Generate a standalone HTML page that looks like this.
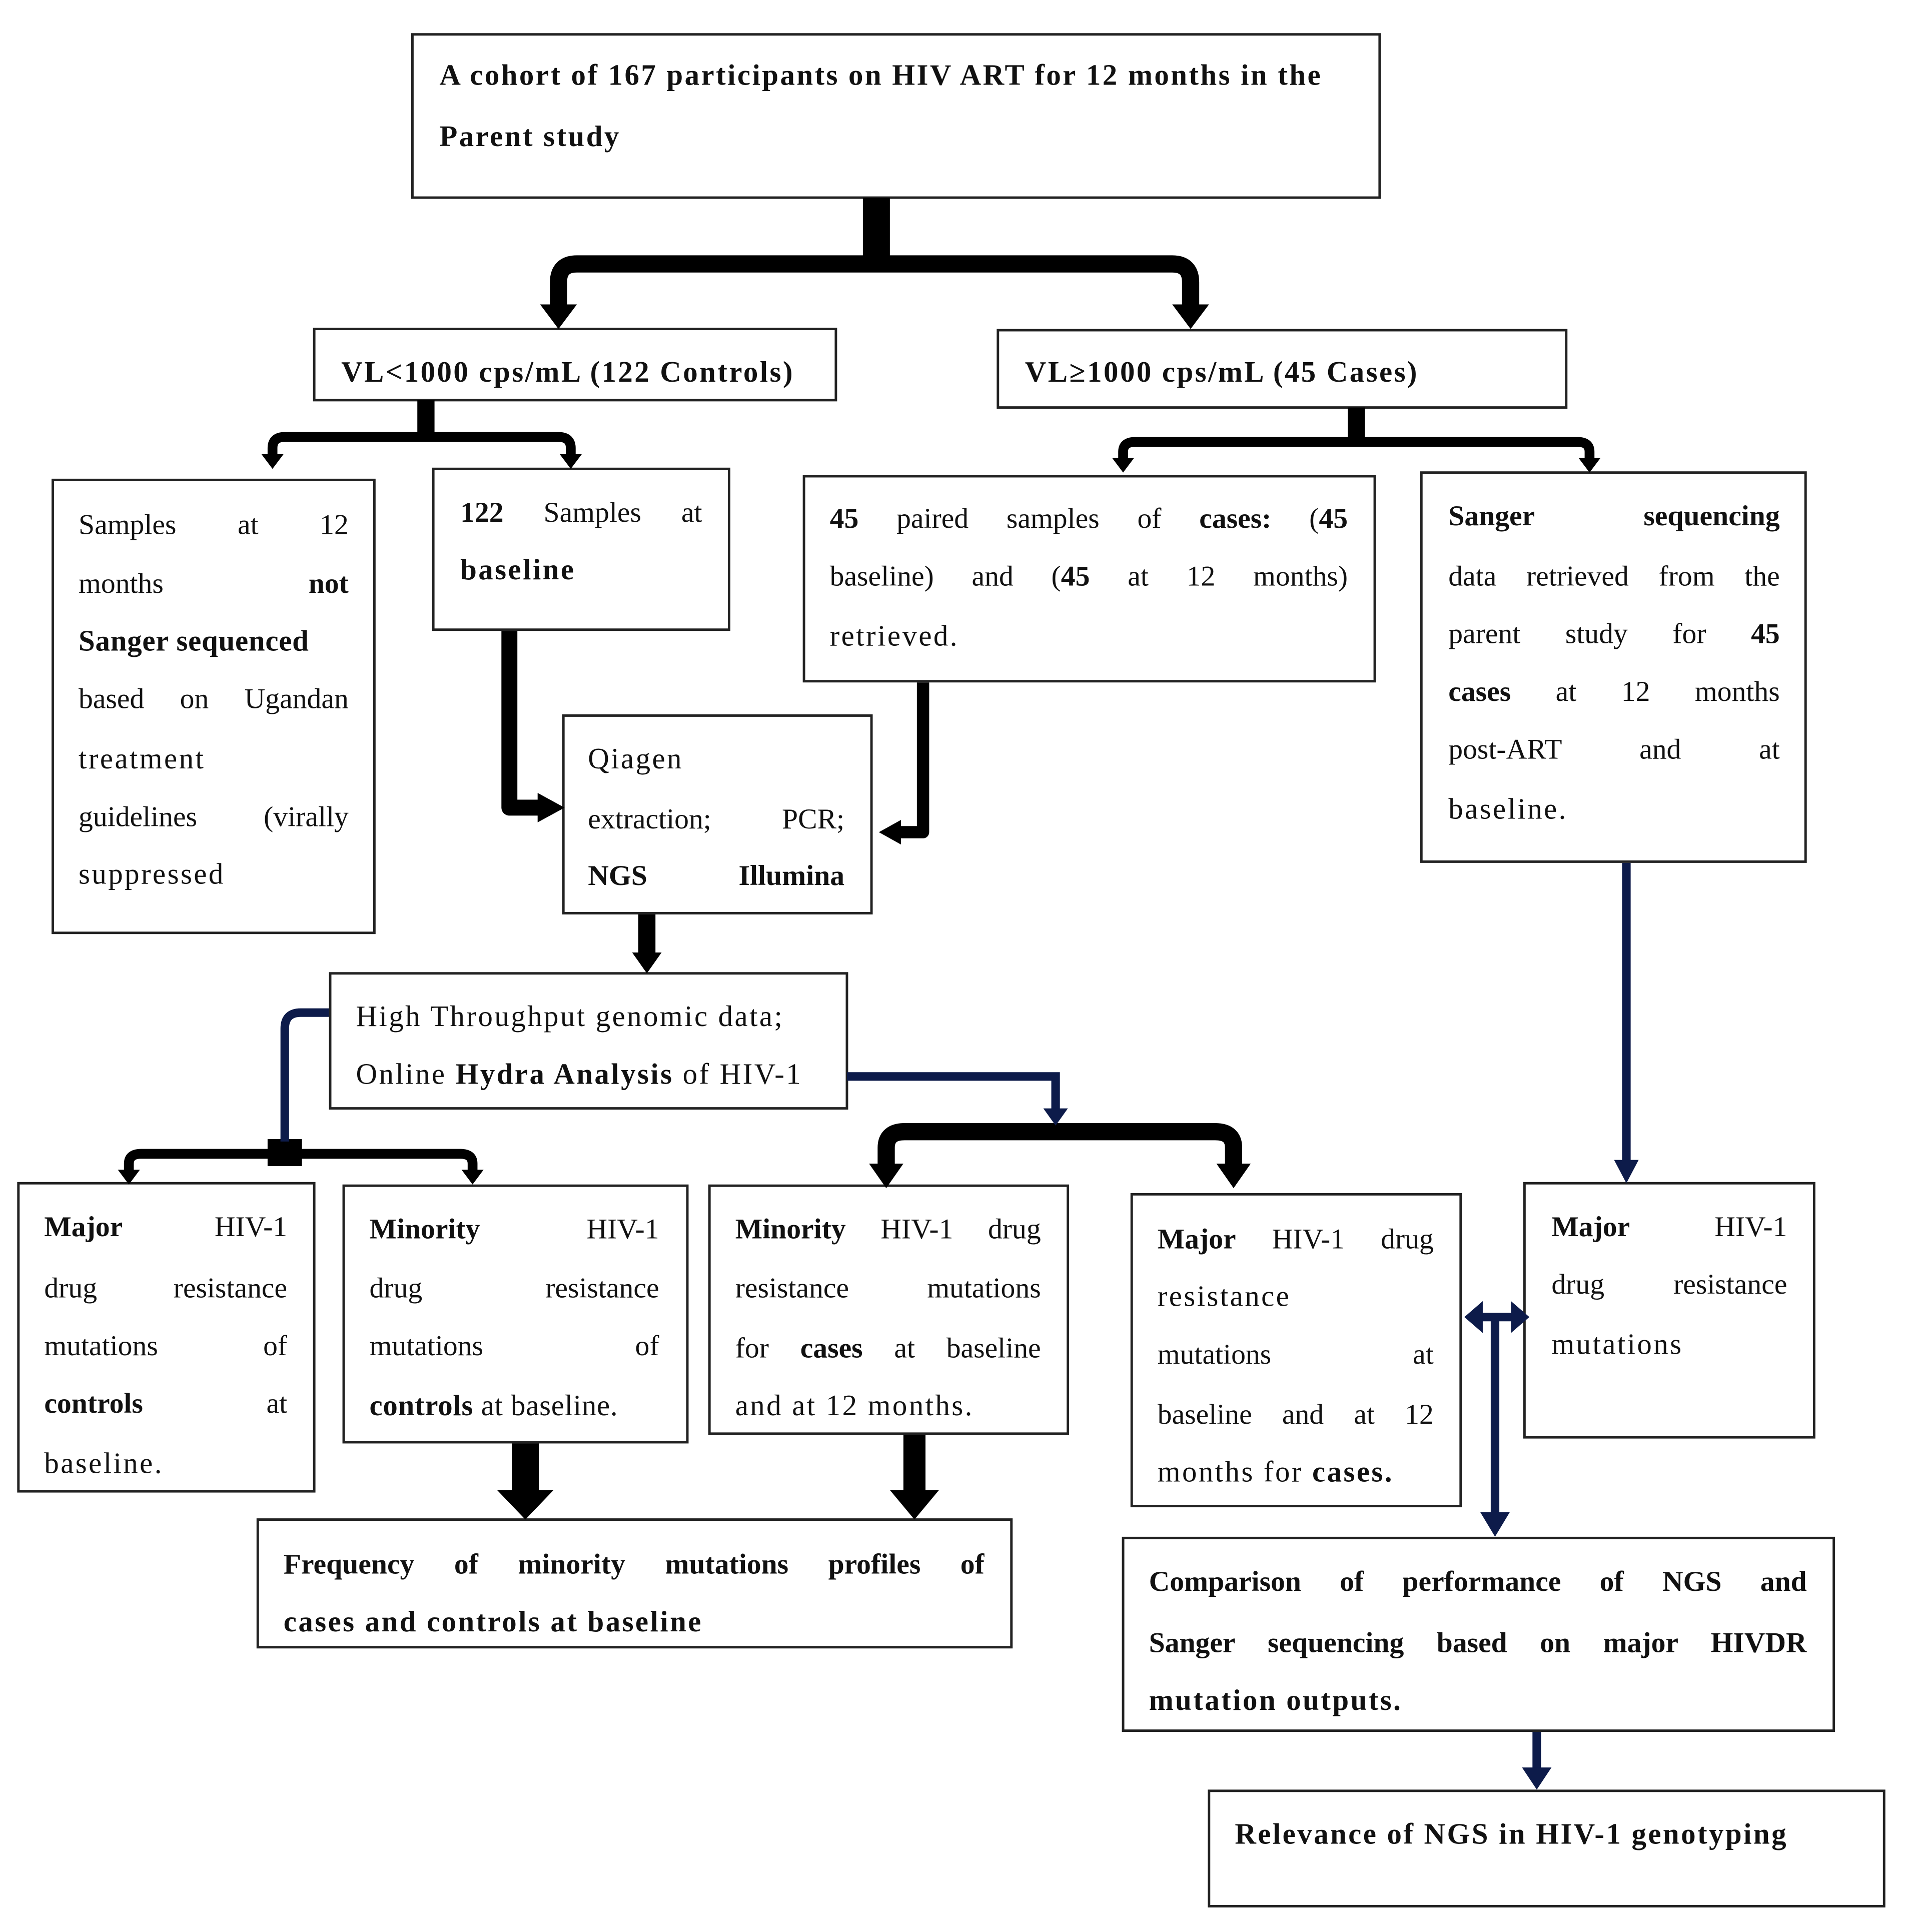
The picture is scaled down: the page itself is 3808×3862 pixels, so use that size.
<!DOCTYPE html>
<html><head><meta charset="utf-8"><style>
html,body{margin:0;padding:0;background:#fff;}
#wrap{width:3808px;height:3862px;overflow:hidden;position:relative;}
#c{position:absolute;left:0;top:0;width:1552px;height:1574px;transform:scale(2.4536);transform-origin:0 0;font-family:"Liberation Serif",serif;color:#111;}
.b{position:absolute;border:2px solid #222;box-sizing:border-box;background:#fff;}
.l{position:absolute;white-space:nowrap;height:32px;line-height:32px;font-size:24px;letter-spacing:1.4px;}
.j{text-align:justify;text-align-last:justify;white-space:normal;overflow:hidden;letter-spacing:0;font-size:23.5px;}
.bb{font-weight:bold;}
svg{position:absolute;left:0;top:0;}
</style></head><body><div id="wrap"><div id="c">
<div class="b" style="left:335px;top:27px;width:790px;height:135px"></div>
<div class="b" style="left:255px;top:267px;width:427px;height:60px"></div>
<div class="b" style="left:812px;top:268px;width:465px;height:65px"></div>
<div class="b" style="left:42px;top:390px;width:264px;height:371px"></div>
<div class="b" style="left:352px;top:381px;width:243px;height:133px"></div>
<div class="b" style="left:654px;top:387px;width:467px;height:169px"></div>
<div class="b" style="left:1157px;top:384px;width:315px;height:319px"></div>
<div class="b" style="left:458px;top:582px;width:253px;height:163px"></div>
<div class="b" style="left:268px;top:792px;width:423px;height:112px"></div>
<div class="b" style="left:14px;top:963px;width:243px;height:253px"></div>
<div class="b" style="left:279px;top:965px;width:282px;height:211px"></div>
<div class="b" style="left:577px;top:965px;width:294px;height:204px"></div>
<div class="b" style="left:921px;top:972px;width:270px;height:256px"></div>
<div class="b" style="left:1241px;top:963px;width:238px;height:209px"></div>
<div class="b" style="left:209px;top:1237px;width:616px;height:106px"></div>
<div class="b" style="left:914px;top:1252px;width:581px;height:159px"></div>
<div class="b" style="left:984px;top:1458px;width:552px;height:96px"></div>

<svg width="1552" height="1574" viewBox="0 0 1552 1574">
<g fill="none" stroke="#000" stroke-linejoin="round">
<path d="M714 161 V210" stroke-width="22"/>
<path d="M455 248 V230 Q455 215 470 215 H955 Q970 215 970 230 V248" stroke-width="14"/>
<path d="M347 326 V356" stroke-width="14"/>
<path d="M222 372 V365 Q222 356 232 356 H455 Q465 356 465 365 V372" stroke-width="8"/>
<path d="M1105 332 V360" stroke-width="14"/>
<path d="M915 375 V368 Q915 360 925 360 H1285 Q1295 360 1295 368 V375" stroke-width="8"/>
<path d="M415 514 V658 H440" stroke-width="13"/>
<path d="M752 556 V678 H732" stroke-width="10"/>
<path d="M527 745 V778" stroke-width="14"/>
<path d="M105 955 V948 Q105 940 115 940 H375 Q385 940 385 948 V955" stroke-width="8"/>
<path d="M722 950 V935 Q722 922 737 922 H990 Q1005 922 1005 935 V950" stroke-width="14"/>
<path d="M428 1176 V1218" stroke-width="22"/>
<path d="M745 1169 V1218" stroke-width="18"/>
</g>
<g fill="#000">
<path d="M440 248 H470 L455 268 z"/><path d="M955 248 H985 L970 268 z"/>
<path d="M213 370 H231 L222 382 z"/><path d="M456 370 H474 L465 382 z"/>
<path d="M906 373 H924 L915 385 z"/><path d="M1286 373 H1304 L1295 385 z"/>
<path d="M438 646 L460 658 L438 670 z"/><path d="M734 668 L716 678 L734 688 z"/>
<path d="M515 776 H539 L527 793 z"/>
<path d="M96 953 H114 L105 965 z"/><path d="M376 953 H394 L385 965 z"/>
<path d="M708 948 H736 L722 968 z"/><path d="M991 948 H1019 L1005 968 z"/>
<path d="M405 1214 H451 L428 1238 z"/><path d="M725 1214 H765 L745 1238 z"/>
<rect x="218" y="928" width="28" height="22"/>
</g>
<g fill="none" stroke="#0d1b4a" stroke-width="7">
<path d="M268 825 H245 Q232 825 232 838 V930"/>
<path d="M690 877 H860 V905"/>
<path d="M1325 703 V948"/>
<path d="M1206 1073 H1233"/>
<path d="M1218 1073 V1235"/>
<path d="M1252 1411 V1442"/>
</g>
<g fill="#0d1b4a">
<path d="M850 903 H870 L860 917 z"/>
<path d="M1315 945 H1335 L1325 964 z"/>
<path d="M1208 1060 L1193 1073 L1208 1086 z"/><path d="M1231 1060 L1246 1073 L1231 1086 z"/>
<path d="M1206 1232 H1230 L1218 1252 z"/>
<path d="M1240 1440 H1264 L1252 1458 z"/>
</g>
</svg>

<div class="l bb" style="left:358px;top:46px">A cohort of 167 participants on HIV ART for 12 months in the</div>
<div class="l bb" style="left:358px;top:96px">Parent study</div>
<div class="l bb" style="left:278px;top:288px">VL&lt;1000 cps/mL (122 Controls)</div>
<div class="l bb" style="left:835px;top:288px">VL≥1000 cps/mL (45 Cases)</div>
<div class="l j" style="left:64px;width:220px;top:412px">Samples at 12</div>
<div class="l j" style="left:64px;width:220px;top:460px">months <b>not</b></div>
<div class="l bb" style="left:64px;top:507px;letter-spacing:0.3px">Sanger sequenced</div>
<div class="l j" style="left:64px;width:220px;top:554px">based on Ugandan</div>
<div class="l" style="left:64px;top:603px">treatment</div>
<div class="l j" style="left:64px;width:220px;top:650px">guidelines (virally</div>
<div class="l" style="left:64px;top:697px">suppressed</div>
<div class="l j" style="left:375px;width:197px;top:402px"><b>122</b> Samples at</div>
<div class="l bb" style="left:375px;top:449px">baseline</div>
<div class="l j" style="left:676px;width:422px;top:407px"><b>45</b> paired samples of <b>cases:</b> (<b>45</b></div>
<div class="l j" style="left:676px;width:422px;top:454px">baseline) and (<b>45</b> at 12 months)</div>
<div class="l" style="left:676px;top:503px">retrieved.</div>
<div class="l j bb" style="left:1180px;width:270px;top:405px">Sanger sequencing</div>
<div class="l j" style="left:1180px;width:270px;top:454px">data retrieved from the</div>
<div class="l j" style="left:1180px;width:270px;top:501px">parent study for <b>45</b></div>
<div class="l j" style="left:1180px;width:270px;top:548px"><b>cases</b> at 12 months</div>
<div class="l j" style="left:1180px;width:270px;top:595px">post-ART and at</div>
<div class="l" style="left:1180px;top:644px">baseline.</div>
<div class="l" style="left:479px;top:603px">Qiagen</div>
<div class="l j" style="left:479px;width:209px;top:652px">extraction; PCR;</div>
<div class="l j bb" style="left:479px;width:209px;top:698px">NGS Illumina</div>
<div class="l" style="left:290px;top:813px">High Throughput genomic data;</div>
<div class="l" style="left:290px;top:860px">Online <b>Hydra Analysis</b> of HIV-1</div>
<div class="l j" style="left:36px;width:198px;top:984px"><b>Major</b> HIV-1</div>
<div class="l j" style="left:36px;width:198px;top:1034px">drug resistance</div>
<div class="l j" style="left:36px;width:198px;top:1081px">mutations of</div>
<div class="l j" style="left:36px;width:198px;top:1128px"><b>controls</b> at</div>
<div class="l" style="left:36px;top:1177px">baseline.</div>
<div class="l j" style="left:301px;width:236px;top:986px"><b>Minority</b> HIV-1</div>
<div class="l j" style="left:301px;width:236px;top:1034px">drug resistance</div>
<div class="l j" style="left:301px;width:236px;top:1081px">mutations of</div>
<div class="l" style="left:301px;top:1130px;letter-spacing:0.3px"><b>controls</b> at baseline.</div>
<div class="l j" style="left:599px;width:249px;top:986px"><b>Minority</b> HIV-1 drug</div>
<div class="l j" style="left:599px;width:249px;top:1034px">resistance mutations</div>
<div class="l j" style="left:599px;width:249px;top:1083px">for <b>cases</b> at baseline</div>
<div class="l" style="left:599px;top:1130px">and at 12 months.</div>
<div class="l j" style="left:943px;width:225px;top:994px"><b>Major</b> HIV-1 drug</div>
<div class="l" style="left:943px;top:1041px">resistance</div>
<div class="l j" style="left:943px;width:225px;top:1088px">mutations at</div>
<div class="l j" style="left:943px;width:225px;top:1137px">baseline and at 12</div>
<div class="l" style="left:943px;top:1184px">months for <b>cases.</b></div>
<div class="l j" style="left:1264px;width:192px;top:984px"><b>Major</b> HIV-1</div>
<div class="l j" style="left:1264px;width:192px;top:1031px">drug resistance</div>
<div class="l" style="left:1264px;top:1080px">mutations</div>
<div class="l j bb" style="left:231px;width:571px;top:1259px">Frequency of minority mutations profiles of</div>
<div class="l bb" style="left:231px;top:1306px">cases and controls at baseline</div>
<div class="l j bb" style="left:936px;width:536px;top:1273px">Comparison of performance of NGS and</div>
<div class="l j bb" style="left:936px;width:536px;top:1323px">Sanger sequencing based on major HIVDR</div>
<div class="l bb" style="left:936px;top:1370px">mutation outputs.</div>
<div class="l bb" style="left:1006px;top:1479px">Relevance of NGS in HIV-1 genotyping</div>
</div></div></body></html>
